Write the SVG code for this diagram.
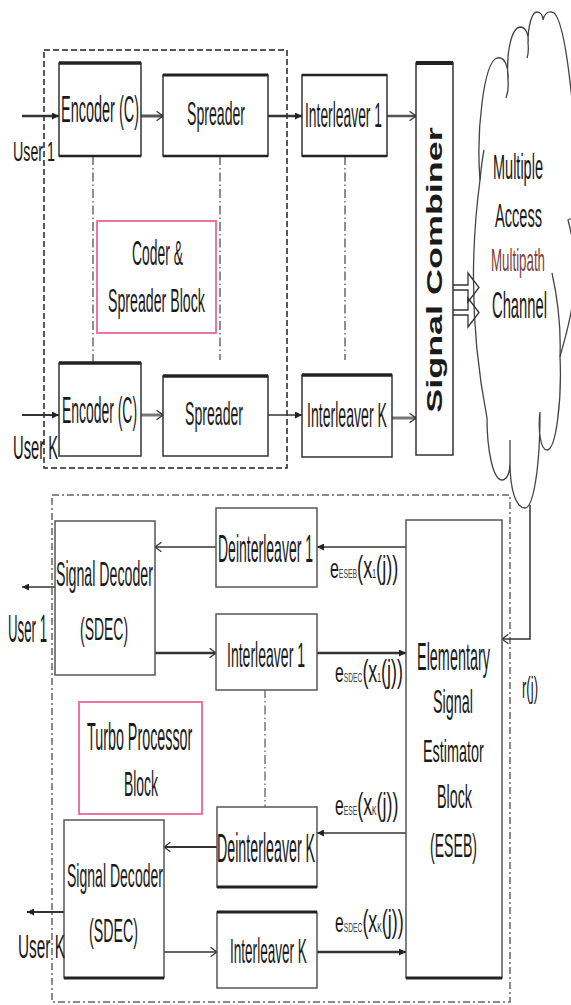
<svg xmlns="http://www.w3.org/2000/svg" width="571" height="1005" viewBox="0 0 571 1005">
<style>
text{font-family:"Liberation Sans",Arial,sans-serif;fill:#1a1a1a}
.box{fill:#fff;stroke:#333;stroke-width:1.5}
.box2{fill:#fff;stroke:#555;stroke-width:1.5}
.thick{stroke:#222;stroke-width:3.5}
.pink{fill:none;stroke:#e8669a;stroke-width:1.8}
.ln{fill:none;stroke:#333}
.dd{fill:none;stroke:#444;stroke-width:1.2;stroke-dasharray:9 3 1.5 3}
.cloud{fill:none;stroke:#444;stroke-width:1.3}
.sub{fill:#444}
</style>
<defs>
<marker id="open" viewBox="0 0 10 14" refX="9" refY="7" markerWidth="8" markerHeight="12" markerUnits="userSpaceOnUse" orient="auto"><path d="M1,1 L9,7 L1,13" fill="none" stroke="#333" stroke-width="1.6"/></marker>
<marker id="tri" viewBox="0 0 10 10" refX="10" refY="5" markerWidth="7" markerHeight="7" markerUnits="userSpaceOnUse" orient="auto"><path d="M0,0 L10,5 L0,10 z" fill="#222"/></marker>
</defs>
<rect width="571" height="1005" fill="#fff"/>

<g id="coder-spreader-block">
<rect x="44" y="50" width="243" height="418" fill="none" stroke="#222" stroke-width="1.5" stroke-dasharray="6 3"/>
</g>
<g id="turbo-processor-block">
<rect x="52" y="495" width="458" height="507" fill="none" stroke="#666" stroke-width="1.5" stroke-dasharray="7 3 2 3"/>
</g>

<g id="cloud">
<path class="cloud" d="M487,418 Q464,300 480,180 C476,130 484,62 497,58 C505,56 509,68 508,80 C506,50 512,28 520,27 C526,27 529,35 528,43 C528,25 532,12 537,12 C541,12 543,16 543,20 C544,14 548,11 552,12 C562,14 568,60 572,100 L590,100 L590,210 L568,220 C576,250 580,290 572,307 C568,330 563,345 560,357 C562,400 556,450 547,450 C540,450 538,428 540,412 C540,470 533,508 525,508 C516,508 510,490 510,462 C510,475 506,480 502,480 C493,480 487,450 487,418 Z"/>
<path class="cloud" d="M552,273 C558,300 561,330 560,357 M510,440 L510,462 M480,180 Q482,160 484,150 M508,80 Q509,90 506,98 M528,43 Q529,52 527,58"/>
<text transform="translate(493,179) scale(0.403,1)" font-size="36">Multiple</text>
<text transform="translate(495,227) scale(0.429,1)" font-size="34">Access</text>
<text transform="translate(491,271) scale(0.416,1)" font-size="32" style="fill:#7b3f3a">Multipath</text>
<text transform="translate(492,318) scale(0.399,1)" font-size="37">Channel</text>
</g>

<g id="connectors">
<line class="ln" x1="22" y1="116" x2="59" y2="116" stroke-width="2.5" marker-end="url(#tri)"/>
<line class="ln" x1="141" y1="116" x2="163" y2="116" stroke-width="3" style="stroke:#555" marker-end="url(#open)"/>
<line class="ln" x1="268" y1="116" x2="302" y2="116" stroke-width="2.5" marker-end="url(#tri)"/>
<line class="ln" x1="387" y1="116" x2="416" y2="116" stroke-width="2.5" style="stroke:#555" marker-end="url(#open)"/>
<line class="ln" x1="22" y1="415" x2="59" y2="415" stroke-width="2" marker-end="url(#tri)"/>
<line class="ln" x1="141" y1="415" x2="163" y2="415" stroke-width="3" style="stroke:#777" marker-end="url(#open)"/>
<line class="ln" x1="268" y1="415" x2="302" y2="415" stroke-width="1.5" marker-end="url(#tri)"/>
<line class="ln" x1="392" y1="418" x2="416" y2="418" stroke-width="3" style="stroke:#777" marker-end="url(#open)"/>
<path class="ln" stroke-width="1.3" d="M453,285 L468,285 L468,273 L479,287.5 L468,302 L468,290 L453,290"/>
<path class="ln" stroke-width="1.3" d="M453,310 L468,310 L468,298 L479,312.5 L468,327 L468,315 L453,315"/>
<line class="dd" x1="93" y1="156" x2="93" y2="363"/>
<line class="dd" x1="220" y1="156" x2="220" y2="360"/>
<line class="dd" x1="345" y1="156" x2="345" y2="360"/>
<line class="dd" x1="265" y1="689" x2="265" y2="807" style="stroke:#555"/>
<polyline class="ln" points="530,505 530,639 502,639" stroke-width="1.5" marker-end="url(#open)"/>
<line class="ln" x1="406" y1="547" x2="317" y2="547" stroke-width="1.5" marker-end="url(#tri)"/>
<line class="ln" x1="216" y1="547" x2="155" y2="547" stroke-width="1.5" marker-end="url(#open)"/>
<line class="ln" x1="55" y1="587" x2="22" y2="587" stroke-width="1.5" marker-end="url(#tri)"/>
<line class="ln" x1="155" y1="653" x2="216" y2="653" stroke-width="2.5" marker-end="url(#open)"/>
<line class="ln" x1="317" y1="653" x2="406" y2="653" stroke-width="2.5" marker-end="url(#tri)"/>
<line class="ln" x1="406" y1="833" x2="317" y2="833" stroke-width="1.5" marker-end="url(#tri)"/>
<line class="ln" x1="217" y1="847" x2="164" y2="847" stroke-width="2" marker-end="url(#open)"/>
<line class="ln" x1="64" y1="912" x2="27" y2="912" stroke-width="2" marker-end="url(#tri)"/>
<line class="ln" x1="164" y1="952" x2="217" y2="952" stroke-width="1.5" marker-end="url(#open)"/>
<line class="ln" x1="317" y1="952" x2="406" y2="952" stroke-width="2.5" marker-end="url(#tri)"/>
</g>

<g id="user1-in"><text transform="translate(13,161) scale(0.509,1)" font-size="28">User 1</text></g>
<g id="userK-in"><text transform="translate(13,459) scale(0.433,1)" font-size="34">User K</text></g>

<g id="encoder-1">
<rect class="box" x="59" y="63" width="82" height="93"/>
<line class="thick" x1="59" y1="63" x2="141" y2="63"/><line class="thick" x1="59" y1="156" x2="141" y2="156" style="stroke-width:2.5"/>
<text transform="translate(61,122) scale(0.402,1)" font-size="36">Encoder (C)</text>
</g>
<g id="spreader-1">
<rect class="box" x="163" y="75" width="105" height="81"/>
<line class="thick" x1="163" y1="75" x2="268" y2="75" style="stroke-width:3"/><line class="thick" x1="163" y1="156" x2="268" y2="156" style="stroke-width:2.5"/>
<text transform="translate(187,125) scale(0.415,1)" font-size="34">Spreader</text>
</g>
<g id="interleaver-1-tx">
<rect class="box" x="302" y="75" width="85" height="81"/>
<line class="thick" x1="302" y1="75" x2="387" y2="75" style="stroke-width:2.5"/><line class="thick" x1="302" y1="156" x2="387" y2="156" style="stroke-width:2.5"/>
<text transform="translate(305,127) scale(0.396,1)" font-size="35">Interleaver 1</text>
</g>
<g id="encoder-K">
<rect class="box" x="59" y="363" width="82" height="93"/>
<line class="thick" x1="59" y1="363" x2="141" y2="363"/>
<text transform="translate(62,423) scale(0.387,1)" font-size="36">Encoder (C)</text>
</g>
<g id="spreader-K">
<rect class="box" x="163" y="376" width="105" height="80"/>
<line class="thick" x1="163" y1="376" x2="268" y2="376"/>
<text transform="translate(185,425) scale(0.415,1)" font-size="34">Spreader</text>
</g>
<g id="interleaver-K-tx">
<rect class="box" x="302" y="375" width="90" height="82"/>
<line class="thick" x1="302" y1="375" x2="392" y2="375"/>
<text transform="translate(307,427) scale(0.403,1)" font-size="35">Interleaver K</text>
</g>
<g id="signal-combiner">
<rect class="box" x="416" y="63" width="37" height="392"/>
<line class="thick" x1="416" y1="63" x2="453" y2="63" style="stroke-width:4"/>
<text transform="translate(442,270) rotate(-90) scale(1.563,1)" text-anchor="middle" font-size="23" font-weight="bold">Signal Combiner</text>
</g>
<g id="coder-spreader-label">
<rect class="pink" x="97" y="221" width="119" height="112"/>
<text transform="translate(132,265) scale(0.386,1)" font-size="36">Coder &amp;</text>
<text transform="translate(108,312) scale(0.417,1)" font-size="34">Spreader Block</text>
</g>

<g id="rj-label"><text transform="translate(522,698) scale(0.437,1)" font-size="30">r(j)</text></g>

<g id="deinterleaver-1">
<rect class="box2" x="216" y="508" width="101" height="79"/>
<text transform="translate(218,562) scale(0.369,1)" font-size="38">Deinterleaver 1</text>
</g>
<g id="interleaver-1-rx">
<rect class="box2" x="216" y="614" width="101" height="76"/>
<text transform="translate(227,667) scale(0.39,1)" font-size="36">Interleaver 1</text>
</g>
<g id="sdec-1">
<rect class="box2" x="55" y="521" width="100" height="154"/>
<text transform="translate(56,586) scale(0.405,1)" font-size="35">Signal Decoder</text>
<text transform="translate(80,640) scale(0.436,1)" font-size="32">(SDEC)</text>
</g>
<g id="user1-out"><text transform="translate(8,642) scale(0.349,1)" font-size="38">User 1</text></g>
<g id="turbo-label">
<rect class="pink" x="79" y="702" width="123" height="112"/>
<text transform="translate(87,750) scale(0.377,1)" font-size="38">Turbo Processor</text>
<text transform="translate(124,796) scale(0.386,1)" font-size="36">Block</text>
</g>
<g id="deinterleaver-K">
<rect class="box2" x="217" y="807" width="100" height="80"/>
<line class="thick" x1="217" y1="887" x2="317" y2="887" style="stroke-width:3"/>
<text transform="translate(217,862) scale(0.356,1)" font-size="40">Deinterleaver K</text>
</g>
<g id="interleaver-K-rx">
<rect class="box2" x="217" y="912" width="100" height="76"/>
<line class="thick" x1="217" y1="912" x2="317" y2="912" style="stroke-width:3"/>
<text transform="translate(230,963) scale(0.377,1)" font-size="36">Interleaver K</text>
</g>
<g id="sdec-K">
<rect class="box2" x="64" y="820" width="100" height="158"/>
<line class="thick" x1="64" y1="978" x2="164" y2="978" style="stroke-width:3"/>
<text transform="translate(67,887) scale(0.413,1)" font-size="34">Signal Decoder</text>
<text transform="translate(89,942) scale(0.418,1)" font-size="34">(SDEC)</text>
</g>
<g id="userK-out"><text transform="translate(18,958) scale(0.452,1)" font-size="34">User K</text></g>
<g id="eseb">
<rect class="box2" x="406" y="520" width="96" height="458"/>
<line class="thick" x1="406" y1="978" x2="502" y2="978" style="stroke-width:3"/>
<text transform="translate(417,670) scale(0.38,1)" font-size="38">Elementary</text>
<text transform="translate(433,713) scale(0.423,1)" font-size="34">Signal</text>
<text transform="translate(423,762) scale(0.451,1)" font-size="32">Estimator</text>
<text transform="translate(437,808) scale(0.421,1)" font-size="34">Block</text>
<text transform="translate(430,857) scale(0.415,1)" font-size="34">(ESEB)</text>
</g>

<g id="label-eseb-1">
<text transform="translate(330,578) scale(0.57,1)"><tspan font-size="28">e</tspan><tspan font-size="12" class="sub">ESEB</tspan><tspan font-size="32">(x</tspan><tspan font-size="12">1</tspan><tspan font-size="32">(j))</tspan></text>
</g>
<g id="label-sdec-1">
<text transform="translate(335,682) scale(0.56,1)"><tspan font-size="28">e</tspan><tspan font-size="12" class="sub">SDEC</tspan><tspan font-size="32">(x</tspan><tspan font-size="12">1</tspan><tspan font-size="32">(j))</tspan></text>
</g>
<g id="label-ese-K">
<text transform="translate(335,815) scale(0.56,1)"><tspan font-size="28">e</tspan><tspan font-size="12" class="sub">ESE</tspan><tspan font-size="32">(x</tspan><tspan font-size="12">K</tspan><tspan font-size="32">(j))</tspan></text>
</g>
<g id="label-sdec-K">
<text transform="translate(335,932) scale(0.56,1)"><tspan font-size="28">e</tspan><tspan font-size="12" class="sub">SDEC</tspan><tspan font-size="32">(x</tspan><tspan font-size="12">K</tspan><tspan font-size="32">(j))</tspan></text>
</g>
</svg>
